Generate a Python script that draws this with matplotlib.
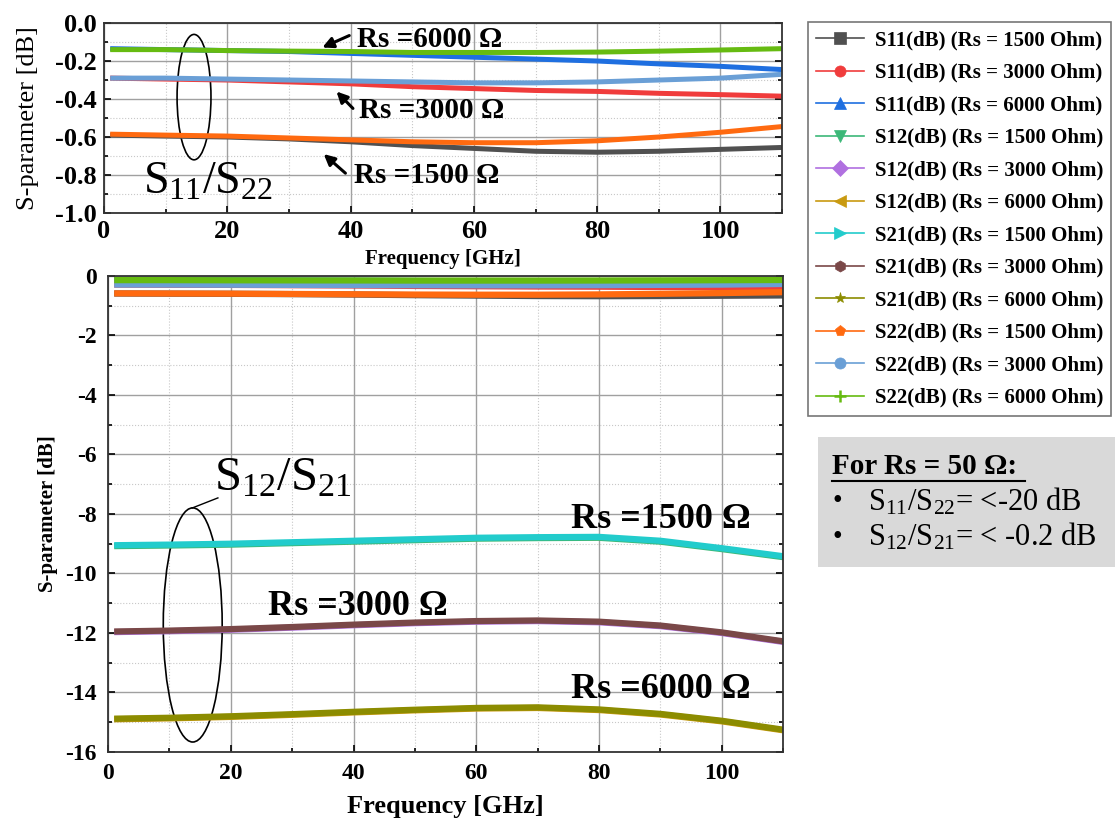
import matplotlib
matplotlib.use("Agg")
import matplotlib.pyplot as plt
from matplotlib.patches import Ellipse, Rectangle
from matplotlib.lines import Line2D
from matplotlib.ticker import FuncFormatter
import numpy as np

plt.rcParams['font.family'] = ['Liberation Serif', 'DejaVu Serif']
plt.rcParams['mathtext.fontset'] = 'custom'
plt.rcParams['mathtext.rm'] = 'Liberation Serif'
plt.rcParams['mathtext.it'] = 'Liberation Serif:italic'
plt.rcParams['mathtext.bf'] = 'Liberation Serif:bold'
plt.rcParams['axes.unicode_minus'] = False

# ---------------- data ----------------
freq = [1, 10, 20, 30, 40, 50, 60, 70, 80, 90, 100, 110]

s11_1500 = [-0.59, -0.595, -0.60, -0.61, -0.625, -0.645, -0.66, -0.675, -0.68, -0.675, -0.665, -0.655]
s11_3000 = [-0.29, -0.295, -0.30, -0.31, -0.32, -0.335, -0.345, -0.355, -0.36, -0.37, -0.377, -0.385]
s11_6000 = [-0.135, -0.14, -0.145, -0.15, -0.16, -0.17, -0.18, -0.19, -0.20, -0.215, -0.228, -0.245]
s12_1500 = [-9.08, -9.06, -9.03, -8.98, -8.93, -8.88, -8.83, -8.81, -8.80, -8.93, -9.18, -9.45]
s12_3000 = [-11.97, -11.94, -11.89, -11.82, -11.74, -11.67, -11.62, -11.60, -11.64, -11.77, -12.00, -12.30]
s12_6000 = [-14.90, -14.87, -14.82, -14.75, -14.67, -14.60, -14.54, -14.52, -14.59, -14.74, -14.97, -15.27]
s21_1500 = [-9.05, -9.03, -9.00, -8.95, -8.90, -8.85, -8.80, -8.78, -8.77, -8.90, -9.15, -9.42]
s21_3000 = [-11.95, -11.92, -11.87, -11.80, -11.72, -11.65, -11.60, -11.58, -11.62, -11.75, -11.98, -12.28]
s21_6000 = [-14.88, -14.85, -14.80, -14.73, -14.65, -14.58, -14.52, -14.50, -14.57, -14.72, -14.95, -15.25]
s22_1500 = [-0.585, -0.59, -0.595, -0.605, -0.615, -0.625, -0.63, -0.63, -0.62, -0.60, -0.575, -0.545]
s22_3000 = [-0.29, -0.29, -0.295, -0.30, -0.305, -0.31, -0.315, -0.315, -0.31, -0.30, -0.29, -0.27]
s22_6000 = [-0.14, -0.14, -0.145, -0.148, -0.15, -0.155, -0.155, -0.155, -0.153, -0.148, -0.142, -0.135]

labels = ["S11(dB) (Rs = 1500 Ohm)", "S11(dB) (Rs = 3000 Ohm)", "S11(dB) (Rs = 6000 Ohm)",
          "S12(dB) (Rs = 1500 Ohm)", "S12(dB) (Rs = 3000 Ohm)", "S12(dB) (Rs = 6000 Ohm)",
          "S21(dB) (Rs = 1500 Ohm)", "S21(dB) (Rs = 3000 Ohm)", "S21(dB) (Rs = 6000 Ohm)",
          "S22(dB) (Rs = 1500 Ohm)", "S22(dB) (Rs = 3000 Ohm)", "S22(dB) (Rs = 6000 Ohm)"]
series = [s11_1500, s11_3000, s11_6000, s12_1500, s12_3000, s12_6000,
          s21_1500, s21_3000, s21_6000, s22_1500, s22_3000, s22_6000]
colors = ["#505050", "#f03c3c", "#1f6fe0", "#3cb878", "#b070e0", "#c99a10",
          "#22cccc", "#7a4848", "#8c8c00", "#ff6a10", "#6a9fd6", "#66bb11"]
markers = ["s", "o", "^", "v", "D", "<", ">", "h", "*", "p", "o", "+"]
order = [3, 4, 5, 6, 7, 8, 0, 1, 2, 9, 10, 11]
top_set = [0, 1, 2, 9, 10, 11]

fig = plt.figure(figsize=(11.15, 8.25), dpi=100)

def style_axes(ax, tick_size, pad):
    ax.set_xlim(0, 110)
    ax.set_xticks(np.arange(0, 101, 20))
    ax.set_xticks(np.arange(10, 111, 20), minor=True)
    ax.grid(True, which='major', color='#a0a0a0', lw=1.0, ls='-')
    ax.grid(True, which='minor', color='#c8c8c8', lw=0.8, ls=':')
    ax.tick_params(which='both', direction='in', top=False, right=True,
                   labelsize=tick_size, width=1.2, pad=pad)
    ax.tick_params(which='major', length=5)
    ax.tick_params(which='minor', length=3)
    for lab in ax.get_xticklabels() + ax.get_yticklabels():
        lab.set_fontweight('bold')
    for sp in ax.spines.values():
        sp.set_linewidth(1.3)
        sp.set_color('#333333')
    ax.set_axisbelow(True)

# ---------------- top axes ----------------
ax1 = fig.add_axes([0.0933, 0.7418, 0.6081, 0.2303])
for i in order:
    if i in top_set:
        ax1.plot(freq, series[i], color=colors[i], lw=3.6, solid_capstyle='butt')
ax1.set_ylim(-1.0, 0.0)
ax1.set_yticks(np.arange(-1.0, 0.01, 0.2))
ax1.set_yticks(np.arange(-0.9, 0.0, 0.2), minor=True)
ax1.yaxis.set_major_formatter(FuncFormatter(lambda v, p: "%.1f" % (0.0 if abs(v) < 1e-9 else v)))
style_axes(ax1, 19, 5)
ax1.set_xlabel("Frequency [GHz]", fontsize=15, fontweight='bold', labelpad=4)
ax1.set_ylabel("S-parameter [dB]", fontsize=19, fontweight='normal', labelpad=12)

ann_kw = dict(fontsize=21, fontweight='bold', va='center', ha='left')
arrow_kw = dict(arrowstyle='-|>', color='black', lw=2.2, mutation_scale=16)
ax1.annotate("", xy=(35.0, -0.135), xytext=(40.2, -0.06), arrowprops=arrow_kw)
ax1.text(41.0, -0.085, "Rs =6000 Ω", **ann_kw)
ax1.annotate("", xy=(37.4, -0.35), xytext=(40.7, -0.46), arrowprops=arrow_kw)
ax1.text(41.3, -0.46, "Rs =3000 Ω", **ann_kw)
ax1.annotate("", xy=(35.3, -0.68), xytext=(39.5, -0.80), arrowprops=arrow_kw)
ax1.text(40.5, -0.80, "Rs =1500 Ω", **ann_kw)
ax1.add_patch(Ellipse((14.6, -0.39), 5.5, 0.66, fill=False, color='black', lw=1.2))
ax1.text(6.3, -0.84, r"S$_{11}$/S$_{22}$", fontsize=33, va='center', ha='left')

# ---------------- bottom axes ----------------
ax2 = fig.add_axes([0.0969, 0.0885, 0.6054, 0.577])
for i in order:
    ax2.plot(freq, series[i], color=colors[i], lw=4.5, solid_capstyle='butt')
ax2.set_ylim(-16, 0)
ax2.set_yticks(np.arange(-16, 1, 2))
ax2.set_yticks(np.arange(-15, 0, 2), minor=True)
style_axes(ax2, 17, 8)
ax2.set_xlabel("Frequency [GHz]", fontsize=19, fontweight='bold', labelpad=8)
ax2.set_ylabel("S-parameter [dB]", fontsize=15, fontweight='bold', labelpad=5)

bann = dict(fontsize=26, fontweight='bold', va='center', ha='left')
ax2.text(75.4, -8.2, "Rs =1500 Ω", **bann)
ax2.text(26.0, -11.1, "Rs =3000 Ω", **bann)
ax2.text(75.4, -13.9, "Rs =6000 Ω", **bann)
ax2.add_patch(Ellipse((13.8, -11.73), 9.6, 7.87, fill=False, color='black', lw=1.2))
ax2.plot([13.7, 17.9], [-7.8, -7.46], color='black', lw=1.0)
ax2.text(17.3, -6.8, r"S$_{12}$/S$_{21}$", fontsize=35, va='center', ha='left')

# ---------------- legend ----------------
handles = [Line2D([0], [0], color=colors[i], marker=markers[i], lw=1.2, markersize=8,
                  markeredgewidth=1.8 if markers[i] == '+' else 0.5,
                  markeredgecolor=colors[i])
           for i in range(12)]
leg = fig.legend(handles, labels, loc='upper left',
                 bbox_to_anchor=(808 / 1115, 1 - 22 / 825),
                 prop={'family': 'Liberation Serif', 'weight': 'bold', 'size': 15},
                 frameon=True, fancybox=False, edgecolor='#555555',
                 handlelength=2.3, labelspacing=0.6, borderpad=0.4,
                 handletextpad=0.5, borderaxespad=0)
leg.get_frame().set_linewidth(1.2)

# ---------------- note box ----------------
W, H = 1115, 825
def fx(px):
    return px / W
def fy(py):
    return 1 - py / H
fig.patches.append(Rectangle((fx(818), fy(567)), fx(1115) - fx(818), fy(437) - fy(567),
                             transform=fig.transFigure, facecolor='#d9d9d9',
                             edgecolor='none', zorder=0))
fig.text(fx(832), fy(466), "For Rs = 50 Ω:", fontsize=21, fontweight='bold',
         va='center', ha='left')
fig.add_artist(Line2D([fx(832), fx(1025)], [fy(481), fy(481)], color='black', lw=1.5,
                      transform=fig.transFigure))
fig.text(fx(832), fy(502), "•", fontsize=20, va='center', ha='left')
fig.text(fx(868), fy(502), r"S$_{11}$/S$_{22}$= <-20 dB", fontsize=22, va='center', ha='left')
fig.text(fx(832), fy(537), "•", fontsize=20, va='center', ha='left')
fig.text(fx(868), fy(537), r"S$_{12}$/S$_{21}$= < -0.2 dB", fontsize=22, va='center', ha='left')

fig.savefig("out.png", dpi=100)
